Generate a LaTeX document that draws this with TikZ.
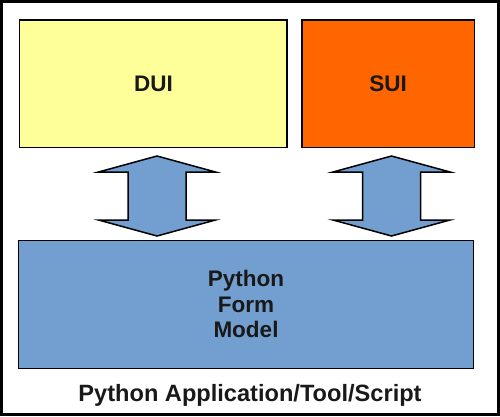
\documentclass[tikz,border=0pt]{standalone}
\usepackage{fontspec}
\setmainfont{Liberation Sans}
\begin{document}
\begin{tikzpicture}[x=1pt,y=-1pt,
  box/.style={draw=black,line width=1.6pt},
  lbl/.style={font=\fontsize{22.5}{25.5}\selectfont\bfseries,align=center,text=black!90},
  dblarrow/.style={draw=black,line width=1.5pt,fill=arrowblue,line join=miter}]
\definecolor{duiyellow}{HTML}{FFFF99}
\definecolor{suiorange}{HTML}{FF6600}
\definecolor{arrowblue}{HTML}{729FCF}
\useasboundingbox (0,0) rectangle (500,416);
\draw[line width=3pt] (1.5,1.5) rectangle (498.5,414.5);
\draw[box,fill=duiyellow] (19.5,20) rectangle (287,147.5);
\node[lbl] (dui) at (153.5,84) {DUI};
\draw[box,fill=suiorange] (302,20) rectangle (474.5,147.5);
\node[lbl] (sui) at (388,84) {SUI};
\draw[box,fill=arrowblue] (18.5,240.5) rectangle (473.5,368.5);
\node[lbl] (model) at (246,304) {Python\\Form\\Model};
\node[font=\fontsize{23.6}{26}\selectfont\bfseries,text=black!90] (app) at (250,395) {Python Application/Tool/Script};
\coordinate (a1) at (157,196);
\coordinate (a2) at (391.5,196);
\foreach \c in {a1,a2}{
  \draw[dblarrow] ([yshift=-40]\c) -- ([xshift=58.5,yshift=-24]\c) -- ([xshift=29,yshift=-24]\c)
    -- ([xshift=29,yshift=24]\c) -- ([xshift=58.5,yshift=24]\c) -- ([yshift=40]\c)
    -- ([xshift=-58.5,yshift=24]\c) -- ([xshift=-29,yshift=24]\c) -- ([xshift=-29,yshift=-24]\c)
    -- ([xshift=-58.5,yshift=-24]\c) -- cycle;
}
\end{tikzpicture}
\end{document}
